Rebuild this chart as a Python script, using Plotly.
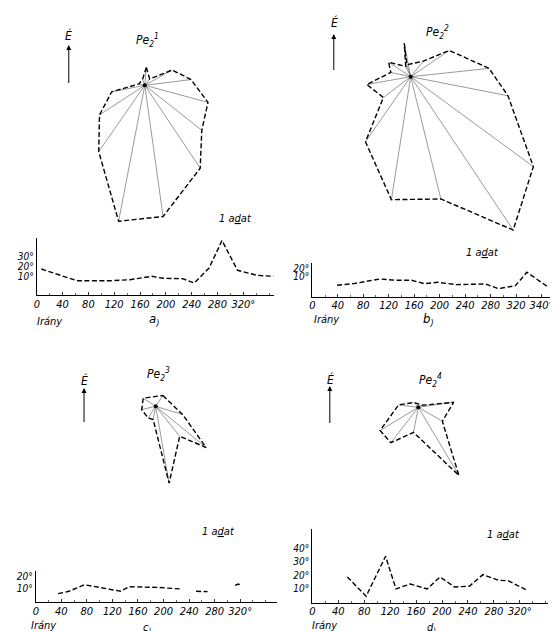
import numpy as np
import plotly.graph_objects as go

W, H = 558, 631
FONT = "Liberation Sans Narrow, DejaVu Sans Condensed, Liberation Sans, sans-serif"

# ---- star (rose) diagrams: direction (deg, clockwise from É) and length (adat units) ----
a_dir = [5, 38, 61, 83, 105, 128, 146, 172, 191, 215, 237, 259, 283, 340]
a_len = [3.6, 1.6, 6.3, 9.4, 13.2, 14.6, 20.0, 26.5, 27.7, 16.2, 10.9, 6.8, 1.2, 1.3]
b_dir = [349, 342, 39, 56, 84, 101, 126, 146, 166, 189, 215, 233, 260, 282, 303, 334]
b_len = [6.8, 2.5, 4.0, 9.4, 15.9, 20.0, 30.6, 37.0, 25.2, 24.9, 15.9, 6.9, 9.0, 4.1, 5.3, 2.3]
c_dir = [34, 107, 129, 141, 170, 191, 213, 257, 303]
c_len = [2.6, 5.7, 13.1, 7.7, 15.6, 2.7, 2.8, 2.9, 3.0]
d_dir = [60, 82, 120, 149, 191, 218, 239, 277, 319]
d_len = [0.8, 7.2, 5.6, 15.9, 5.1, 9.0, 9.0, 4.0, 1.3]

# ---- line charts: irány (deg) vs angle (deg) ----
a_x = [7, 62, 114, 144, 178, 196, 226, 244, 267, 287, 311, 341, 367]
a_y = [17.5, 5.8, 5.8, 6.8, 10.2, 8.2, 7.8, 3.5, 18.5, 46, 16.2, 11.2, 10.2]
b_x = [39, 65, 106, 132, 156, 176, 197, 226, 272, 292, 319, 337, 371]
b_y = [-2.3, -0.1, 6.3, 4.5, 4.5, -0.1, 1.8, -1.5, -0.5, -7, -2.9, 15.5, -5.1]
c_x = [35, 52, 76, 103, 133, 146, 189, 227, None, 251, 269, None, 312, 317, 323]
c_y = [6.3, 8.2, 13.4, 10.8, 8.2, 11.8, 11.3, 10.0, None, 8.2, 7.9, None, 12.9, 13.9, 12.6]
d_x = [54, 83, 113, 129, 151, 177, 197, 219, 242, 263, 287, 302, 329]
d_y = [18.9, 4.6, 34.2, 10.0, 13.7, 10.0, 18.9, 11.5, 12.0, 20.6, 16.4, 16.1, 9.5]

x_ticks = [0, 40, 80, 120, 160, 200, 240, 280, 320]
x_ticktext = ["0", "40", "80", "120", "160", "200", "240", "280", "320°"]
b_ticks = [0, 40, 80, 120, 160, 200, 240, 280, 320, 360]
b_ticktext = ["0", "40", "80", "120", "160", "200", "240", "280", "320", "340°"]


def px(x):
    return x / W


def py(y):
    return 1 - y / H


fig = go.Figure()
layout = dict(width=W, height=H, margin=dict(l=0, r=0, t=0, b=0),
              paper_bgcolor="white", plot_bgcolor="white", showlegend=False)

SCALE = 5.0  # px per adat
stars = [
    (a_dir, a_len, (135, 77.3), (60, 240, 20, 225)),
    (b_dir, b_len, (403.3, 68.7), (320, 556, 20, 235)),
    (c_dir, c_len, (146, 398.3), (100, 230, 375, 485)),
    (d_dir, d_len, (411, 399.3), (350, 480, 380, 480)),
]

for i, (dirs, lens, (cx, cy), (x0, x1, y0, y1)) in enumerate(stars, start=1):
    t = np.radians(np.array(dirs, dtype=float))
    r = np.array(lens, dtype=float)
    xs = r * np.sin(t)
    ys = r * np.cos(t)
    xa = "x" if i == 1 else f"x{i}"
    ya = "y" if i == 1 else f"y{i}"
    sx, sy = [], []
    for xv, yv in zip(xs, ys):
        sx += [0, xv, None]
        sy += [0, yv, None]
    fig.add_trace(go.Scatter(x=sx, y=sy, mode="lines", xaxis=xa, yaxis=ya,
                             line=dict(color="#555", width=0.6), hoverinfo="skip"))
    fig.add_trace(go.Scatter(x=list(xs) + [xs[0]], y=list(ys) + [ys[0]], mode="lines",
                             xaxis=xa, yaxis=ya,
                             line=dict(color="black", width=1.4, dash="5px,2.5px")))
    fig.add_trace(go.Scatter(x=[0], y=[0], mode="markers", xaxis=xa, yaxis=ya,
                             marker=dict(color="black", size=4)))
    kx = "xaxis" if i == 1 else f"xaxis{i}"
    ky = "yaxis" if i == 1 else f"yaxis{i}"
    layout[kx] = dict(domain=[px(x0), px(x1)], range=[(x0 - cx) / SCALE, (x1 - cx) / SCALE],
                      visible=False, anchor=ya, fixedrange=True)
    layout[ky] = dict(domain=[py(y1), py(y0)], range=[(cy - y1) / SCALE, (cy - y0) / SCALE],
                      visible=False, anchor=xa, fixedrange=True)

charts = [
    (a_x, a_y, (26, 265, 230, 287.3), [0, 367], [-8.8, 48.5], [10, 20, 30], x_ticks, x_ticktext),
    (b_x, b_y, (304, 545.6, 255, 289), [0, 376], [-18.4, 28.2], [10, 20], b_ticks, b_ticktext),
    (c_x, c_y, (25, 268, 563, 594.3), [0, 377], [-0.5, 24.2], [10, 20], x_ticks, x_ticktext),
    (d_x, d_y, (304, 542.3, 521, 595), [0, 364], [-0.4, 54.4], [10, 20, 30, 40], x_ticks, x_ticktext),
]
tickfont = dict(family=FONT, size=11, color="black")
for j, (xv, yv, (x0, x1, y0, y1), xr, yr, yt, xt, xtt) in enumerate(charts, start=5):
    xa, ya = f"x{j}", f"y{j}"
    fig.add_trace(go.Scatter(x=xv, y=yv, mode="lines", xaxis=xa, yaxis=ya, connectgaps=False,
                             line=dict(color="black", width=1.4, dash="5px,2.5px")))
    layout[f"xaxis{j}"] = dict(domain=[px(x0), px(x1)], range=xr, anchor=ya,
                               showline=True, linecolor="black", linewidth=1,
                               showgrid=False, zeroline=False,
                               tickmode="array", tickvals=xt,
                               ticktext=[f"<i>{s}</i>" for s in xtt],
                               ticks="inside", ticklen=3, tickcolor="#333", tickwidth=1,
                               ticklabelstandoff=-2,
                               minor=dict(tickmode="linear", tick0=0, dtick=20, ticks="inside",
                                          ticklen=2, tickcolor="#666", showgrid=False),
                               tickfont=tickfont, fixedrange=True)
    layout[f"yaxis{j}"] = dict(domain=[py(y1), py(y0)], range=yr, anchor=xa,
                               showline=True, linecolor="black", linewidth=1,
                               showgrid=False, zeroline=False, ticks="",
                               tickmode="array", tickvals=yt,
                               ticktext=[f"<i>{v}°</i>" for v in yt],
                               tickfont=dict(family=FONT, size=10, color="black"),
                               fixedrange=True)

ann = []


def text(x, y, s, size=12, xanchor="center", yanchor="middle"):
    ann.append(dict(x=px(x), y=py(y), xref="paper", yref="paper", text=f"<i>{s}</i>",
                    showarrow=False, xanchor=xanchor, yanchor=yanchor,
                    font=dict(family=FONT, size=size, color="black")))


def arrow(x, ytop, ybot):
    ann.append(dict(x=px(x), y=py(ytop), xref="paper", yref="paper", text=" ",
                    showarrow=True, ax=0, ay=ybot - ytop, axref="pixel", ayref="pixel",
                    arrowhead=2, arrowsize=1, arrowwidth=1, arrowcolor="black", standoff=0))


titles = ["Pe<sub>2</sub><sup>1</sup>", "Pe<sub>2</sub><sup>2</sup>",
          "Pe<sub>2</sub><sup>3</sup>", "Pe<sub>2</sub><sup>4</sup>"]
title_pos = [(138, 32), (430, 24), (149, 366), (423, 372)]
for s, (x, y) in zip(titles, title_pos):
    text(x, y, s, size=12)

for (x, y) in [(58, 28), (326, 15), (74, 372), (322, 371)]:
    text(x, y, "É", size=12)
arrow(58.3, 37, 85)
arrow(325.7, 26, 72)
arrow(73.7, 380, 424)
arrow(321.7, 378, 425)

for (x, y) in [(227, 210), (476, 244), (209, 523), (497, 526)]:
    text(x, y, "1 a<u>d</u>at", size=11)

for (x, y) in [(24, 313), (304, 311), (18, 617), (302, 617)]:
    text(x, y, "Irány", size=11, xanchor="left")

text(144, 312, "a<sub>)</sub>", size=13)
text(421, 312, "b<sub>)</sub>", size=13)
text(137, 629, "c<sub>)</sub>", size=11, yanchor="bottom")
text(424, 629, "d<sub>)</sub>", size=11, yanchor="bottom")

layout["annotations"] = ann
fig.update_layout(**layout)
fig.write_html("out.html")
